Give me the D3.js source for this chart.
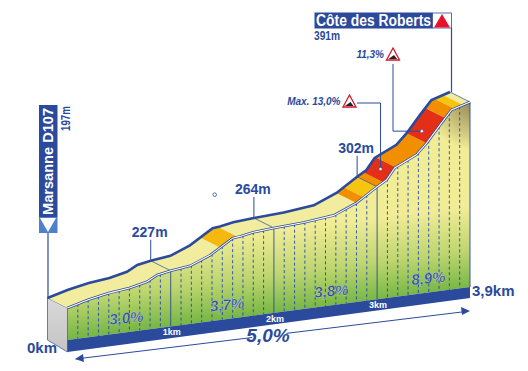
<!DOCTYPE html>
<html>
<head>
<meta charset="utf-8">
<script src="https://d3js.org/d3.v7.min.js"></script>
<style>
body { margin: 0; background: white; }
text { font-family: "Liberation Sans Narrow", "Liberation Sans", sans-serif; font-weight: bold; fill: #2b4a9b; }
</style>
</head>
<body>
<div id="chart"></div>
<script>
//profile
const profileKm = [0, 0.2, 0.4, 0.6, 0.77, 0.87, 1, 1.19, 1.38, 1.6, 1.67, 1.8, 2, 2.29, 2.58, 2.8, 3, 3.09, 3.17, 3.38, 3.48, 3.61, 3.72, 3.9];
const profileAlt = [197, 204, 209, 212, 217, 224, 227, 230, 240, 258, 259, 262, 264, 266, 270, 282, 299, 306, 320, 333, 346, 367, 384, 391];

//coloured pieces of the road
const climbFrom = [1.48, 2.8, 2.87, 3, 3.06, 3.18, 3.48, 3.66, 3.75];
const climbTo = [1.65, 2.87, 3, 3.06, 3.18, 3.48, 3.66, 3.75, 3.83];
const climbColor = ["#f5b80f", "#f18f01", "#f7c510", "#f18f01", "#e42e17", "#f18f01", "#e42e17", "#f18f01", "#f7c510"];

const kmTicks = [1, 2, 3];
const dashKm = d3.range(1, 39).map(d => d / 10).filter(d => !kmTicks.includes(d));

const peakLabels = ["227m", "264m", "302m"];
const peakKm = [1, 2, 3];
const slopeLabels = ["3,0%", "3,7%", "3,8%", "8,9%"];
const slopeKm = [0.575, 1.55, 2.56, 3.5];

const width = 528;
const height = 371;
const blue = "#2b4a9b";

const svg = d3.select("#chart")
    .append("svg")
    .attr("width", width)
    .attr("height", height);

const xScale = d3.scaleLinear().domain([0, 3.9]).range([67.5, 470]);
const baseScale = d3.scaleLinear().domain([0, 3.9]).range([340, 287]);
const heightScale = d3.scaleLinear().domain([197, 391]).range([32, 185]);
const altAt = d3.scaleLinear().domain(profileKm).range(profileAlt);

//the road is a band, back edge is shifted from the front edge
const backX = -20;
const backY = -10;

function frontY(km) { return baseScale(km) - heightScale(altAt(km)); }

//front edge points between two distances
function frontPoints(a, b) {
    const inner = profileKm.filter(k => k > a && k < b);
    return [a].concat(inner, [b]).map(k => [xScale(k), frontY(k)]);
}

const allFront = frontPoints(0, 3.9);
const allBack = allFront.map(p => [p[0] + backX, p[1] + backY]);
const line = d3.line();

const defs = svg.append("defs");

//green at the ground, yellow above
const faceGrad = defs.append("linearGradient")
    .attr("id", "faceGrad")
    .attr("gradientUnits", "userSpaceOnUse")
    .attr("x1", 268).attr("y1", 313)
    .attr("x2", 258).attr("y2", 233);
faceGrad.append("stop").attr("offset", "0%").attr("stop-color", "#78b746");
faceGrad.append("stop").attr("offset", "45%").attr("stop-color", "#bdd56f");
faceGrad.append("stop").attr("offset", "100%").attr("stop-color", "#f1ec96");

//brown shadow under the summit
const shadeGrad = defs.append("radialGradient")
    .attr("id", "shadeGrad")
    .attr("gradientUnits", "userSpaceOnUse")
    .attr("cx", 475).attr("cy", 100).attr("r", 50);
shadeGrad.append("stop").attr("offset", "0%").attr("stop-color", "#6b5a3a").attr("stop-opacity", 0.75);
shadeGrad.append("stop").attr("offset", "100%").attr("stop-color", "#6b5a3a").attr("stop-opacity", 0);

const sideGrad = defs.append("linearGradient")
    .attr("id", "sideGrad")
    .attr("x1", "0%").attr("y1", "0%").attr("x2", "0%").attr("y2", "100%");
sideGrad.append("stop").attr("offset", "0%").attr("stop-color", "#d9d9d9");
sideGrad.append("stop").attr("offset", "100%").attr("stop-color", "#c4c4c4");

//front face
const facePath = line(allFront.concat([[xScale(3.9), baseScale(3.9)], [xScale(0), baseScale(0)]])) + "Z";
svg.append("path").attr("d", facePath).attr("fill", "url(#faceGrad)");
svg.append("path").attr("d", facePath).attr("fill", "url(#shadeGrad)");

//left side of the block
svg.append("path")
    .attr("d", line([
        [xScale(0) + backX, frontY(0) + backY],
        [xScale(0), frontY(0)],
        [xScale(0), baseScale(0) + 12],
        [xScale(0) + backX, baseScale(0)]
    ]) + "Z")
    .attr("fill", "url(#sideGrad)")
    .attr("stroke", blue)
    .attr("stroke-width", 0.7);

//km ground strip
svg.append("path")
    .attr("d", line([
        [xScale(0), baseScale(0)],
        [xScale(3.9), baseScale(3.9)],
        [xScale(3.9), baseScale(3.9) + 11],
        [xScale(0), baseScale(0) + 12]
    ]) + "Z")
    .attr("fill", blue);

//dashed verticals
svg.selectAll(".dash")
    .data(dashKm)
    .enter()
    .append("line")
    .attr("x1", d => xScale(d))
    .attr("x2", d => xScale(d))
    .attr("y1", d => frontY(d))
    .attr("y2", d => baseScale(d))
    .attr("stroke", "#2346b5")
    .attr("stroke-width", 0.9)
    .attr("stroke-dasharray", "3,2.5");

//solid verticals on the km
svg.selectAll(".km")
    .data(kmTicks.concat([3.9]))
    .enter()
    .append("line")
    .attr("x1", d => xScale(d))
    .attr("x2", d => xScale(d))
    .attr("y1", d => frontY(d))
    .attr("y2", d => baseScale(d))
    .attr("stroke", blue)
    .attr("stroke-width", 0.9);

//road surface
svg.append("path")
    .attr("d", line(allBack.concat(allFront.slice().reverse())) + "Z")
    .attr("fill", "#f1ec9e");

climbFrom.forEach(function(from, i) {
    const front = frontPoints(from, climbTo[i]);
    const back = front.map(p => [p[0] + backX, p[1] + backY]);
    svg.append("path")
        .attr("d", line(back.concat(front.reverse())) + "Z")
        .attr("fill", climbColor[i]);
});

//thin lines across the road
svg.selectAll(".cross")
    .data(kmTicks)
    .enter()
    .append("line")
    .attr("x1", d => xScale(d) + backX)
    .attr("y1", d => frontY(d) + backY)
    .attr("x2", d => xScale(d))
    .attr("y2", d => frontY(d))
    .attr("stroke", blue)
    .attr("stroke-width", 0.7);

svg.append("line")
    .attr("x1", xScale(3.9) + backX)
    .attr("y1", frontY(3.9) + backY)
    .attr("x2", xScale(3.9))
    .attr("y2", frontY(3.9))
    .attr("stroke", blue)
    .attr("stroke-width", 0.7);

//front edge, blue with white inside
svg.append("path")
    .attr("d", line(allFront))
    .attr("fill", "none")
    .attr("stroke", blue)
    .attr("stroke-width", 2.6);
svg.append("path")
    .attr("d", line(allFront))
    .attr("fill", "none")
    .attr("stroke", "white")
    .attr("stroke-width", 1.1);

//back edge
svg.append("path")
    .attr("d", line(allBack))
    .attr("fill", "none")
    .attr("stroke", blue)
    .attr("stroke-width", 2.6);

//start pole and sign
svg.append("line")
    .attr("x1", 48).attr("x2", 48)
    .attr("y1", 233).attr("y2", allBack[0][1])
    .attr("stroke", blue)
    .attr("stroke-width", 1.2);
svg.append("rect").attr("x", 39).attr("y", 105).attr("width", 18.5).attr("height", 112).attr("fill", blue);
svg.append("rect").attr("x", 39).attr("y", 217).attr("width", 18.5).attr("height", 16).attr("fill", "#4f81cb");
svg.append("path").attr("d", "M40,218L56,218L48,232Z").attr("fill", "white");

svg.append("text")
    .attr("transform", "translate(53,215) rotate(-90)")
    .attr("textLength", 107)
    .attr("lengthAdjust", "spacingAndGlyphs")
    .attr("font-size", 15)
    .style("fill", "white")
    .text("Marsanne D107");
svg.append("text")
    .attr("transform", "translate(70,131) rotate(-90)")
    .attr("textLength", 25)
    .attr("lengthAdjust", "spacingAndGlyphs")
    .attr("font-size", 13)
    .text("197m");

//summit sign
svg.append("line")
    .attr("x1", 451.5).attr("x2", 451.5)
    .attr("y1", 28).attr("y2", allBack[allBack.length - 1][1])
    .attr("stroke", blue)
    .attr("stroke-width", 1.2);
svg.append("rect").attr("x", 314.5).attr("y", 12.5).attr("width", 118).attr("height", 16).attr("fill", blue);
svg.append("rect").attr("x", 432.5).attr("y", 13).attr("width", 19).attr("height", 15).attr("fill", "white").attr("stroke", blue).attr("stroke-width", 0.8);
svg.append("path").attr("d", "M442,14L450,27.5L434,27.5Z").attr("fill", "#e8112d");
svg.append("text")
    .attr("x", 316).attr("y", 26)
    .attr("textLength", 115)
    .attr("lengthAdjust", "spacingAndGlyphs")
    .attr("font-size", 16)
    .style("fill", "white")
    .text("Côte des Roberts");
svg.append("text")
    .attr("x", 314).attr("y", 40)
    .attr("textLength", 26)
    .attr("lengthAdjust", "spacingAndGlyphs")
    .attr("font-size", 13)
    .text("391m");

//steepest points with their warning signs
function steepSign(km, signX, signY, label, viaTop) {
    const dotX = xScale(km) + backX / 2;
    const dotY = frontY(km) + backY / 2;
    const path = viaTop
        ? [[signX, signY], [signX, dotY], [dotX, dotY]]
        : [[signX, signY], [dotX, signY], [dotX, dotY]];
    svg.append("path")
        .attr("d", line(path))
        .attr("fill", "none")
        .attr("stroke", blue)
        .attr("stroke-width", 1);
    svg.append("circle")
        .attr("cx", dotX).attr("cy", dotY).attr("r", 1.6)
        .attr("fill", "white")
        .attr("stroke", blue)
        .attr("stroke-width", 0.5);

    const tx = viaTop ? signX : signX - 7.5;
    const ty = viaTop ? signY - 4 : signY + 4;
    svg.append("path")
        .attr("d", `M${tx},${ty - 12}L${tx + 6.5},${ty}L${tx - 6.5},${ty}Z`)
        .attr("fill", "white")
        .attr("stroke", "#d8122a")
        .attr("stroke-width", 1.3);
    svg.append("path")
        .attr("d", `M${tx + 4},${ty - 1}L${tx - 4.5},${ty - 1}L${tx + 1},${ty - 5}Z`)
        .attr("fill", "#222");
    svg.append("text")
        .attr("x", tx - 9)
        .attr("y", ty - 2)
        .attr("text-anchor", "end")
        .attr("font-size", 10)
        .attr("font-style", "italic")
        .text(label);
}

steepSign(3.53, 393, 64, "11,3%", true);
steepSign(3.13, 357, 103, "Max. 13,0%", false);

//altitude marks on the back edge
svg.selectAll(".peakLine")
    .data(peakKm)
    .enter()
    .append("line")
    .attr("x1", d => xScale(d) + backX)
    .attr("x2", d => xScale(d) + backX)
    .attr("y1", d => frontY(d) + backY - 21)
    .attr("y2", d => frontY(d) + backY)
    .attr("stroke", blue)
    .attr("stroke-width", 1);

svg.selectAll(".peakText")
    .data(peakKm)
    .enter()
    .append("text")
    .attr("x", d => xScale(d) + backX - 1)
    .attr("y", d => frontY(d) + backY - 24)
    .attr("text-anchor", "middle")
    .attr("font-size", 14)
    .text((d, i) => peakLabels[i]);

//km labels in the strip
svg.selectAll(".kmText")
    .data(kmTicks)
    .enter()
    .append("text")
    .attr("x", d => xScale(d) + 1)
    .attr("y", d => baseScale(d) + 9)
    .attr("text-anchor", "middle")
    .attr("font-size", 9)
    .style("fill", "white")
    .text(d => d + "km");

//slope labels
svg.selectAll(".slopeText")
    .data(slopeKm)
    .enter()
    .append("text")
    .attr("transform", d => `translate(${xScale(d)},${baseScale(d) - 9}) rotate(-5)`)
    .attr("text-anchor", "middle")
    .attr("font-size", 15)
    .attr("font-style", "italic")
    .attr("stroke", "white")
    .attr("stroke-width", 0.4)
    .attr("stroke-opacity", 0.6)
    .text((d, i) => slopeLabels[i]);

svg.append("text").attr("x", 27).attr("y", 353).attr("font-size", 15).text("0km");
svg.append("text").attr("x", 472).attr("y", 296).attr("font-size", 15).text("3,9km");

//total gradient arrow
const arrowY = d3.scaleLinear().domain([0, 3.9]).range([360, 311]);

function arrowLine(a, b) {
    svg.append("line")
        .attr("x1", xScale(a)).attr("y1", arrowY(a))
        .attr("x2", xScale(b)).attr("y2", arrowY(b))
        .attr("stroke", blue)
        .attr("stroke-width", 1);
}
arrowLine(0.08, 1.79);
arrowLine(2.12, 3.85);
svg.append("path").attr("d", "M75,359L83,354L84,362Z").attr("fill", blue);
svg.append("path").attr("d", "M470,311L461,307L462,315Z").attr("fill", blue);
svg.append("text")
    .attr("x", 268).attr("y", 342)
    .attr("text-anchor", "middle")
    .attr("font-size", 19)
    .attr("font-style", "italic")
    .text("5,0%");

//small ring above the road
svg.append("circle")
    .attr("cx", 214.7).attr("cy", 194.7).attr("r", 1.8)
    .attr("fill", "white")
    .attr("stroke", blue)
    .attr("stroke-width", 0.8);
</script>
</body>
</html>
